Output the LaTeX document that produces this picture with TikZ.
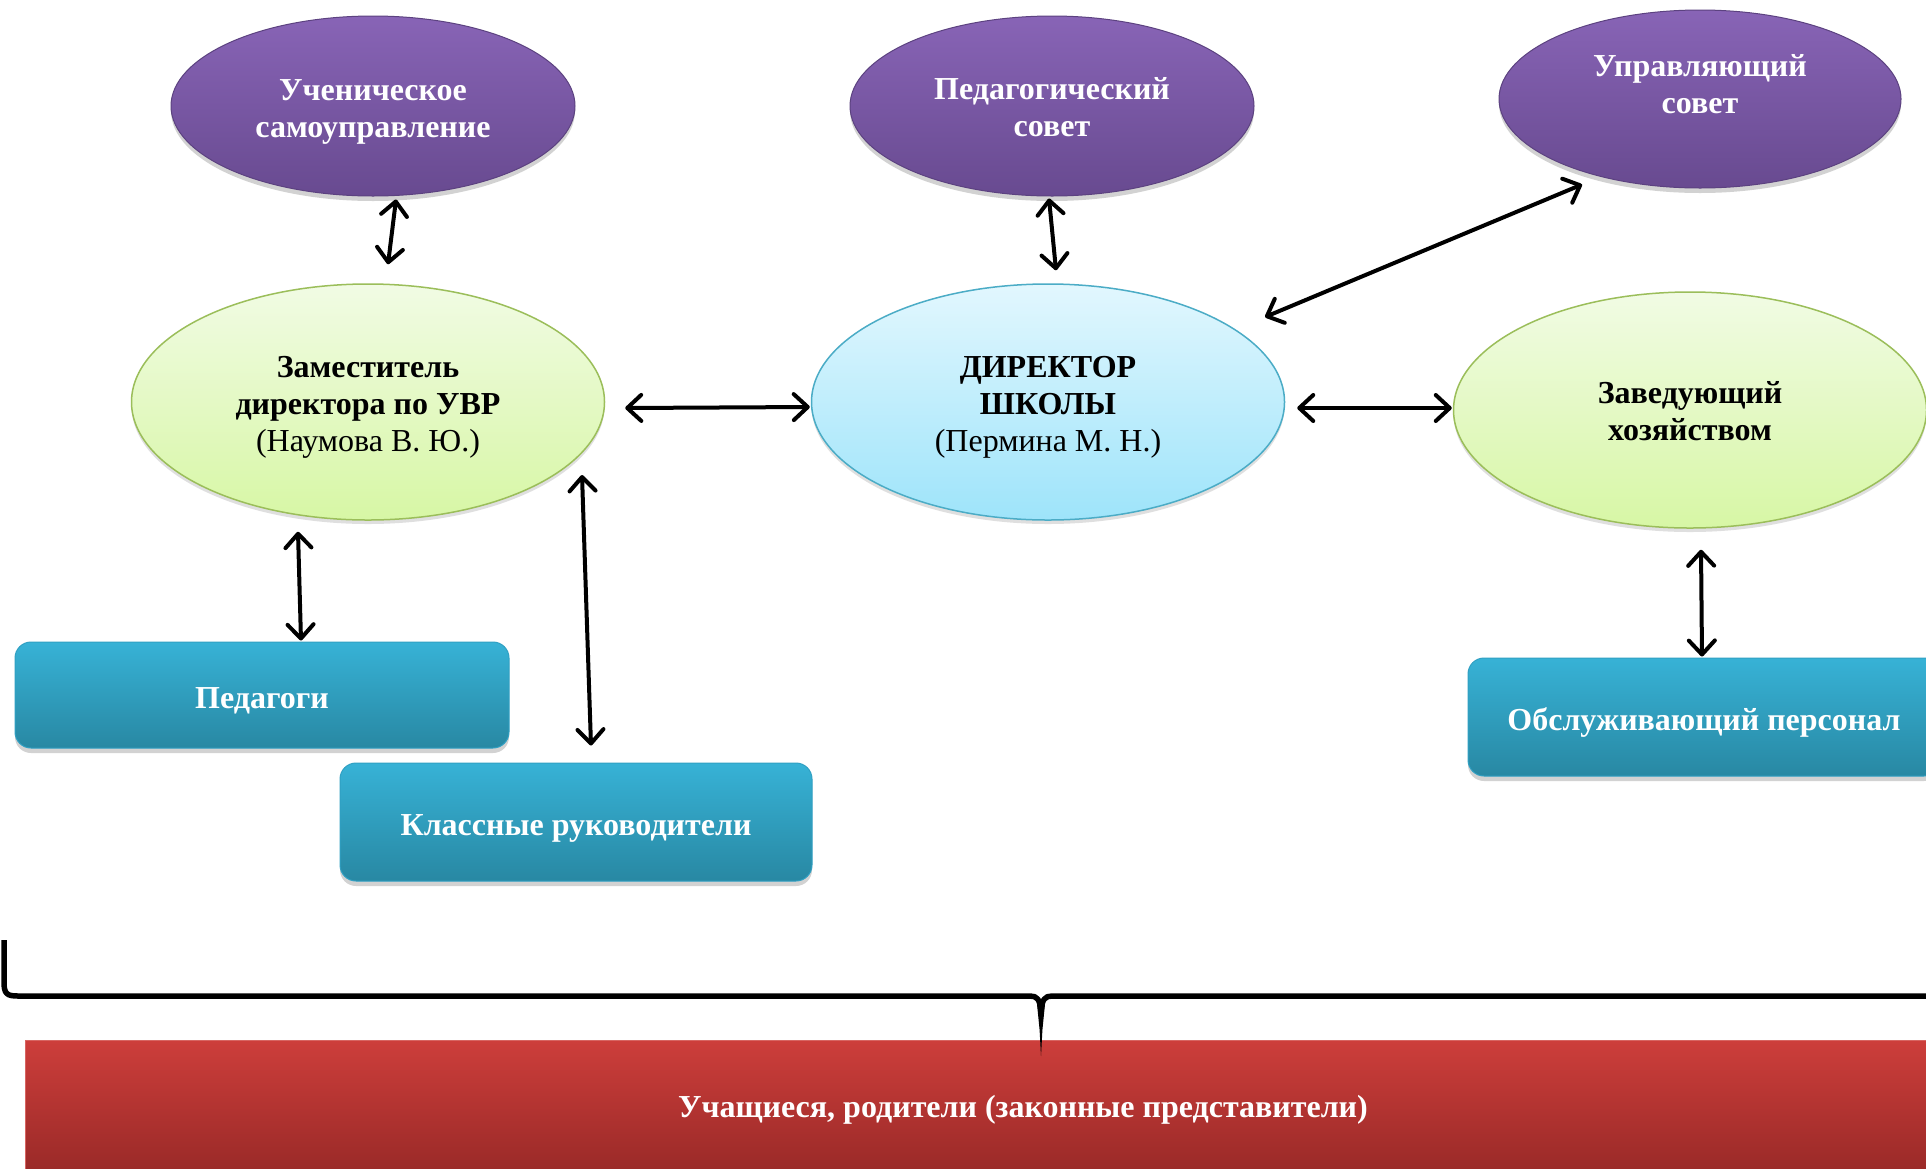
\documentclass[tikz,border=0pt]{standalone}
\usepackage{fontspec}
\setmainfont{Liberation Serif}
\usetikzlibrary{shapes.geometric,arrows.meta,shadows,calc}
\definecolor{purT}{RGB}{136,100,182}
\definecolor{purB}{RGB}{104,74,144}
\definecolor{purD}{RGB}{92,66,128}
\definecolor{grnT}{RGB}{241,251,228}
\definecolor{grnB}{RGB}{215,247,165}
\definecolor{grnD}{RGB}{155,190,90}
\definecolor{bluT}{RGB}{226,247,254}
\definecolor{bluB}{RGB}{158,228,250}
\definecolor{bluD}{RGB}{75,172,198}
\definecolor{boxT}{RGB}{55,178,214}
\definecolor{boxB}{RGB}{40,136,163}
\definecolor{boxD}{RGB}{48,160,195}
\definecolor{redT}{RGB}{205,62,59}
\definecolor{redB}{RGB}{152,41,39}
% multi-line text block, ink lowered by the optional amount (box size kept)
\newcommand\mltext[2][5pt]{\raisebox{-#1}[\height][\depth]{\begin{tabular}{@{}c@{}}#2\end{tabular}}}
\tikzset{
  txt/.style={font=\fontsize{32}{37}\selectfont, align=center},
  council/.style={ellipse, txt, text=white, font=\fontsize{32}{37}\selectfont\bfseries,
    top color=purT, bottom color=purB, draw=purD, line width=1pt,
    minimum width=404pt, minimum height=180pt, inner sep=0pt,
    drop shadow={shadow xshift=0pt, shadow yshift=-5pt, opacity=0.35}},
  leader/.style={ellipse, txt, text=black, minimum width=473pt, minimum height=236pt,
    inner sep=0pt, line width=1.5pt,
    drop shadow={shadow xshift=0pt, shadow yshift=-4pt, opacity=0.25}},
  greenell/.style={leader, top color=grnT, bottom color=grnB, draw=grnD},
  blueell/.style={leader, top color=bluT, bottom color=bluB, draw=bluD},
  staff/.style={rectangle, rounded corners=16pt, txt, text=white,
    font=\fontsize{32}{37}\selectfont\bfseries,
    top color=boxT, bottom color=boxB, draw=boxD, line width=1pt,
    drop shadow={shadow xshift=0pt, shadow yshift=-5pt, opacity=0.35}},
  link/.style={line width=4pt, line cap=round, black,
    {Straight Barb[length=14pt,width=26pt,round]}-{Straight Barb[length=14pt,width=26pt,round]}},
  bracepath/.style={line width=5.5pt, black, line join=round}
}
\begin{document}
\begin{tikzpicture}[x=1pt,y=-1pt]
\useasboundingbox (0,0) rectangle (1926,1168);
\clip (0,0) rectangle (1926,1168);
\fill[white] (0,0) rectangle (1926,1168);

% top councils
\node[council] (uch) at (373,106) {\mltext[6pt]{Ученическое\\самоуправление}};
\node[council] (ped) at (1052,106) {\mltext[5pt]{Педагогический\\совет}};
\node[council, minimum width=402pt, minimum height=178pt] (upr) at (1700,99) {\mltext[-11pt]{Управляющий\\совет}};

% leaders
\node[greenell] (zam) at (368,402) {\mltext{\textbf{Заместитель}\\\textbf{директора по УВР}\\(Наумова В. Ю.)}};
\node[blueell] (dir) at (1048,402) {\mltext{\textbf{ДИРЕКТОР}\\\textbf{ШКОЛЫ}\\(Пермина М. Н.)}};
\node[greenell] (zav) at (1690,410) {\mltext{\textbf{Заведующий}\\\textbf{хозяйством}}};

% staff boxes
\node[staff, minimum width=494pt, minimum height=106pt] (pdg) at (262,695) {\mltext[6pt]{Педагоги}};
\node[staff, minimum width=472pt, minimum height=118pt] (kls) at (576,822) {\mltext[6pt]{Классные руководители}};
\node[staff, minimum width=472pt, minimum height=118pt] (obs) at (1704,717) {\mltext[6pt]{Обслуживающий персонал}};

% bottom bar
\node[rectangle, top color=redT, bottom color=redB, draw=redT!80!white, line width=1pt,
  minimum width=1996pt, minimum height=136pt, inner sep=0pt,
  font=\fontsize{32}{37}\selectfont\bfseries, text=white] (pup) at (1023,1108)
  {\mltext[2.5pt]{Учащиеся, родители (законные представители)}};

% brace
\coordinate (bl) at (4,940);
\coordinate (btip) at (1041,1056);
\coordinate (br) at (1940,996);
\draw[bracepath] (bl) -- (4,982) .. controls (4,994) and (7,996) .. (18,996)
  -- (1030,996) .. controls (1037,996) and (1040,999) .. (1041,1012);
\draw[bracepath] (br) -- (1052,996) .. controls (1045,996) and (1042,999) .. (1041,1012);
\fill[black] (1037,1004) -- (1045,1004) -- (1042.4,1030) -- (btip) -- (1039.6,1030) -- cycle;

% connectors
\draw[link] ($(uch.south)+(23,3)$) -- ($(zam.north)+(20,-19)$);
\draw[link] ($(ped.south)+(-3,2)$) -- ($(dir.north)+(8,-13)$);
\draw[link] ($(upr.south)+(-118,-4)$) -- ($(dir.center)+(217,-85)$);
\draw[link] ($(zam.east)+(20,6)$) -- ($(dir.west)+(-1,5)$);
\draw[link] ($(dir.east)+(12,6)$) -- ($(zav.west)+(-1,-2)$);
\draw[link] ($(zam.south)+(-70,11)$) -- ($(pdg.north)+(39,-1)$);
\draw[link] ($(zam.center)+(214,73)$) -- ($(kls.north)+(15,-17)$);
\draw[link] ($(zav.south)+(11,21)$) -- ($(obs.north)+(-2,-1)$);
\end{tikzpicture}
\end{document}
